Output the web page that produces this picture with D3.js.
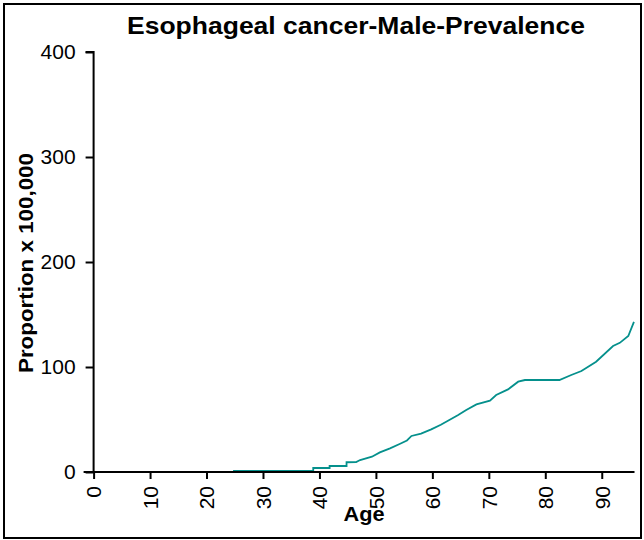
<!DOCTYPE html>
<html>
<head>
<meta charset="utf-8">
<script src="https://cdn.jsdelivr.net/npm/d3@7"></script>
<style>
  html, body { margin: 0; padding: 0; background: #fff; }
  svg { display: block; }
  text { font-family: "Liberation Sans", Arial, Helvetica, sans-serif; }
</style>
</head>
<body>
<svg id="chart" width="644" height="540"></svg>
<script>
const title = "Esophageal cancer-Male-Prevalence";
const xTitle = "Age";
const yTitle = "Proportion x 100,000";
const xTicks = [0, 10, 20, 30, 40, 50, 60, 70, 80, 90];
const yTicks = [0, 100, 200, 300, 400];
const ages = [24.7, 38.9, 38.9, 41.8, 41.8, 44.8, 44.8, 46.5, 47.2, 49.3, 50.7, 52.5, 54.2, 55.5, 56.3, 58.0, 59.8, 61.5, 63.0, 64.5, 66.0, 67.8, 70.2, 71.3, 73.4, 75.2, 76.4, 82.5, 84.6, 86.4, 89.0, 92.0, 93.2, 94.7, 95.7];
const prevalence = [1, 1, 3.8, 3.8, 5.7, 5.7, 9.3, 9.5, 11.4, 14.6, 18.7, 22.5, 26.7, 30.0, 34.3, 36.5, 40.6, 45.0, 49.5, 54.0, 59.0, 64.4, 67.9, 73.3, 78.7, 86.0, 87.6, 87.6, 92.4, 96.2, 105.0, 120.0, 123.0, 129.5, 143.0];

const svg = d3.select("#chart");
const x = d3.scaleLinear().domain([0, 95.8]).range([93.6, 634.5]);
const y = d3.scaleLinear().domain([0, 400]).range([472, 52]);

// border
svg.append("rect").attr("x", 4).attr("y", 4).attr("width", 637).attr("height", 534)
  .attr("fill", "none").attr("stroke", "#000").attr("stroke-width", 2);

// title
svg.append("text").attr("x", 356).attr("y", 34).attr("text-anchor", "middle")
  .attr("font-size", 24).attr("font-weight", "bold")
  .attr("textLength", 458).attr("lengthAdjust", "spacingAndGlyphs").text(title);

// line
const data = ages.map((a, i) => ({ a, v: prevalence[i] }));
svg.append("path").datum(data)
  .attr("fill", "none").attr("stroke", "#05908c").attr("stroke-width", 1.8)
  .attr("d", d3.line().x(d => x(d.a)).y(d => y(d.v)));

// y axis
const yAxis = svg.append("g").attr("transform", `translate(${x(0)},0)`)
  .call(d3.axisLeft(y).tickValues(yTicks).tickSize(8).tickPadding(10));
yAxis.select(".domain").attr("stroke-width", 2).attr("d", `M-8,${y(400)}H0V${y(0)}`);
yAxis.selectAll(".tick line").attr("stroke-width", 2);
yAxis.selectAll(".tick text").attr("font-size", 21).attr("font-family", "Liberation Sans, Arial, sans-serif").attr("fill", "#000");

// x axis
const xAxis = svg.append("g").attr("transform", `translate(0,${y(0)})`)
  .call(d3.axisBottom(x).tickValues(xTicks).tickSize(7));
xAxis.select(".domain").attr("stroke-width", 2).attr("d", `M${x(0) - 10},0H${x(95.8)}`);
xAxis.selectAll(".tick line").attr("stroke-width", 2);
xAxis.selectAll(".tick text")
  .attr("font-size", 21).attr("font-family", "Liberation Sans, Arial, sans-serif").attr("fill", "#000")
  .attr("text-anchor", "end").attr("transform", "rotate(-90)")
  .attr("x", -14).attr("y", 0).attr("dy", "0.35em");

// axis titles
svg.append("text").attr("x", x(47.9)).attr("y", 521).attr("text-anchor", "middle")
  .attr("font-size", 20).attr("font-weight", "bold")
  .attr("textLength", 41).attr("lengthAdjust", "spacingAndGlyphs").text(xTitle);
svg.append("text").attr("transform", `translate(33,263) rotate(-90)`).attr("text-anchor", "middle")
  .attr("font-size", 20).attr("font-weight", "bold")
  .attr("textLength", 220).attr("lengthAdjust", "spacingAndGlyphs").text(yTitle);
</script>
</body>
</html>
